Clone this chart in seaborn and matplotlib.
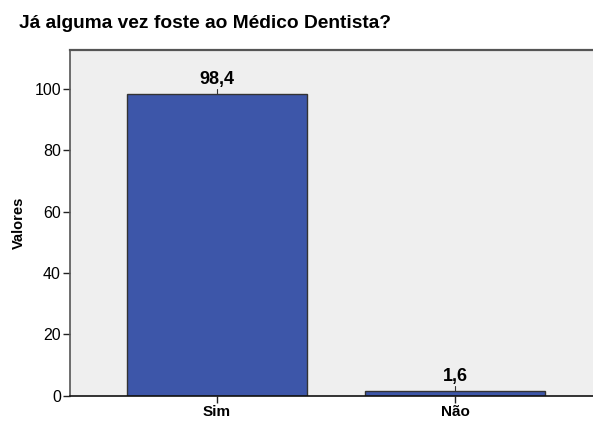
import matplotlib
matplotlib.use("Agg")
import matplotlib.pyplot as plt
import pandas as pd
import seaborn as sns

# dados
categorias = ["Sim", "Não"]
valores = [98.4, 1.6]
rotulos = ["98,4", "1,6"]
yticks = [0, 20, 40, 60, 80, 100]

df = pd.DataFrame({"Resposta": categorias, "Valores": valores})

sns.set_style("white")
plt.rcParams["font.family"] = ["Liberation Sans", "DejaVu Sans"]
plt.rcParams["text.color"] = "black"
plt.rcParams["axes.labelcolor"] = "black"
plt.rcParams["xtick.color"] = "black"
plt.rcParams["ytick.color"] = "black"

fig = plt.figure(figsize=(5.93, 4.21), dpi=100)
ax = fig.add_axes([0.118, 0.06, 0.882, 0.821])
ax.set_facecolor("#efefef")

sns.barplot(data=df, x="Resposta", y="Valores", ax=ax, color="#3d56a9",
            saturation=1, width=0.756, edgecolor="#333333", linewidth=1)

ax.set_xlim(-0.618, 1.58)
ax.set_ylim(0, 112.6)
ax.set_yticks(yticks)
ax.set_yticklabels([str(t) for t in yticks], fontsize=11.5)
ax.set_xticks(range(len(categorias)))
ax.set_xticklabels(categorias, fontsize=11, fontweight="bold")
ax.tick_params(axis="both", length=5, width=1, color="#222222", pad=1.5,
               direction="out", bottom=True, left=True)
ax.set_xlabel("")
ax.set_ylabel("Valores", fontsize=10.5, fontweight="bold", labelpad=6)

# rótulos das barras
for i, (v, r) in enumerate(zip(valores, rotulos)):
    ax.plot([i, i], [v, v + 1.5], color="#333333", lw=0.8)
    ax.text(i, v + 2.0, r, ha="center", va="bottom", fontsize=13,
            fontweight="bold")

for s in ["left", "top", "right"]:
    ax.spines[s].set_color("#555555")
ax.spines["top"].set_linewidth(1.6)
ax.spines["left"].set_linewidth(1.2)
ax.spines["right"].set_visible(False)
ax.spines["bottom"].set_color("#111111")
ax.spines["bottom"].set_linewidth(1.2)

fig.text(0.032, 0.945, "Já alguma vez foste ao Médico Dentista?", fontsize=13.8,
         fontweight="bold", ha="left", va="center")

fig.savefig("out.png", dpi=100)
